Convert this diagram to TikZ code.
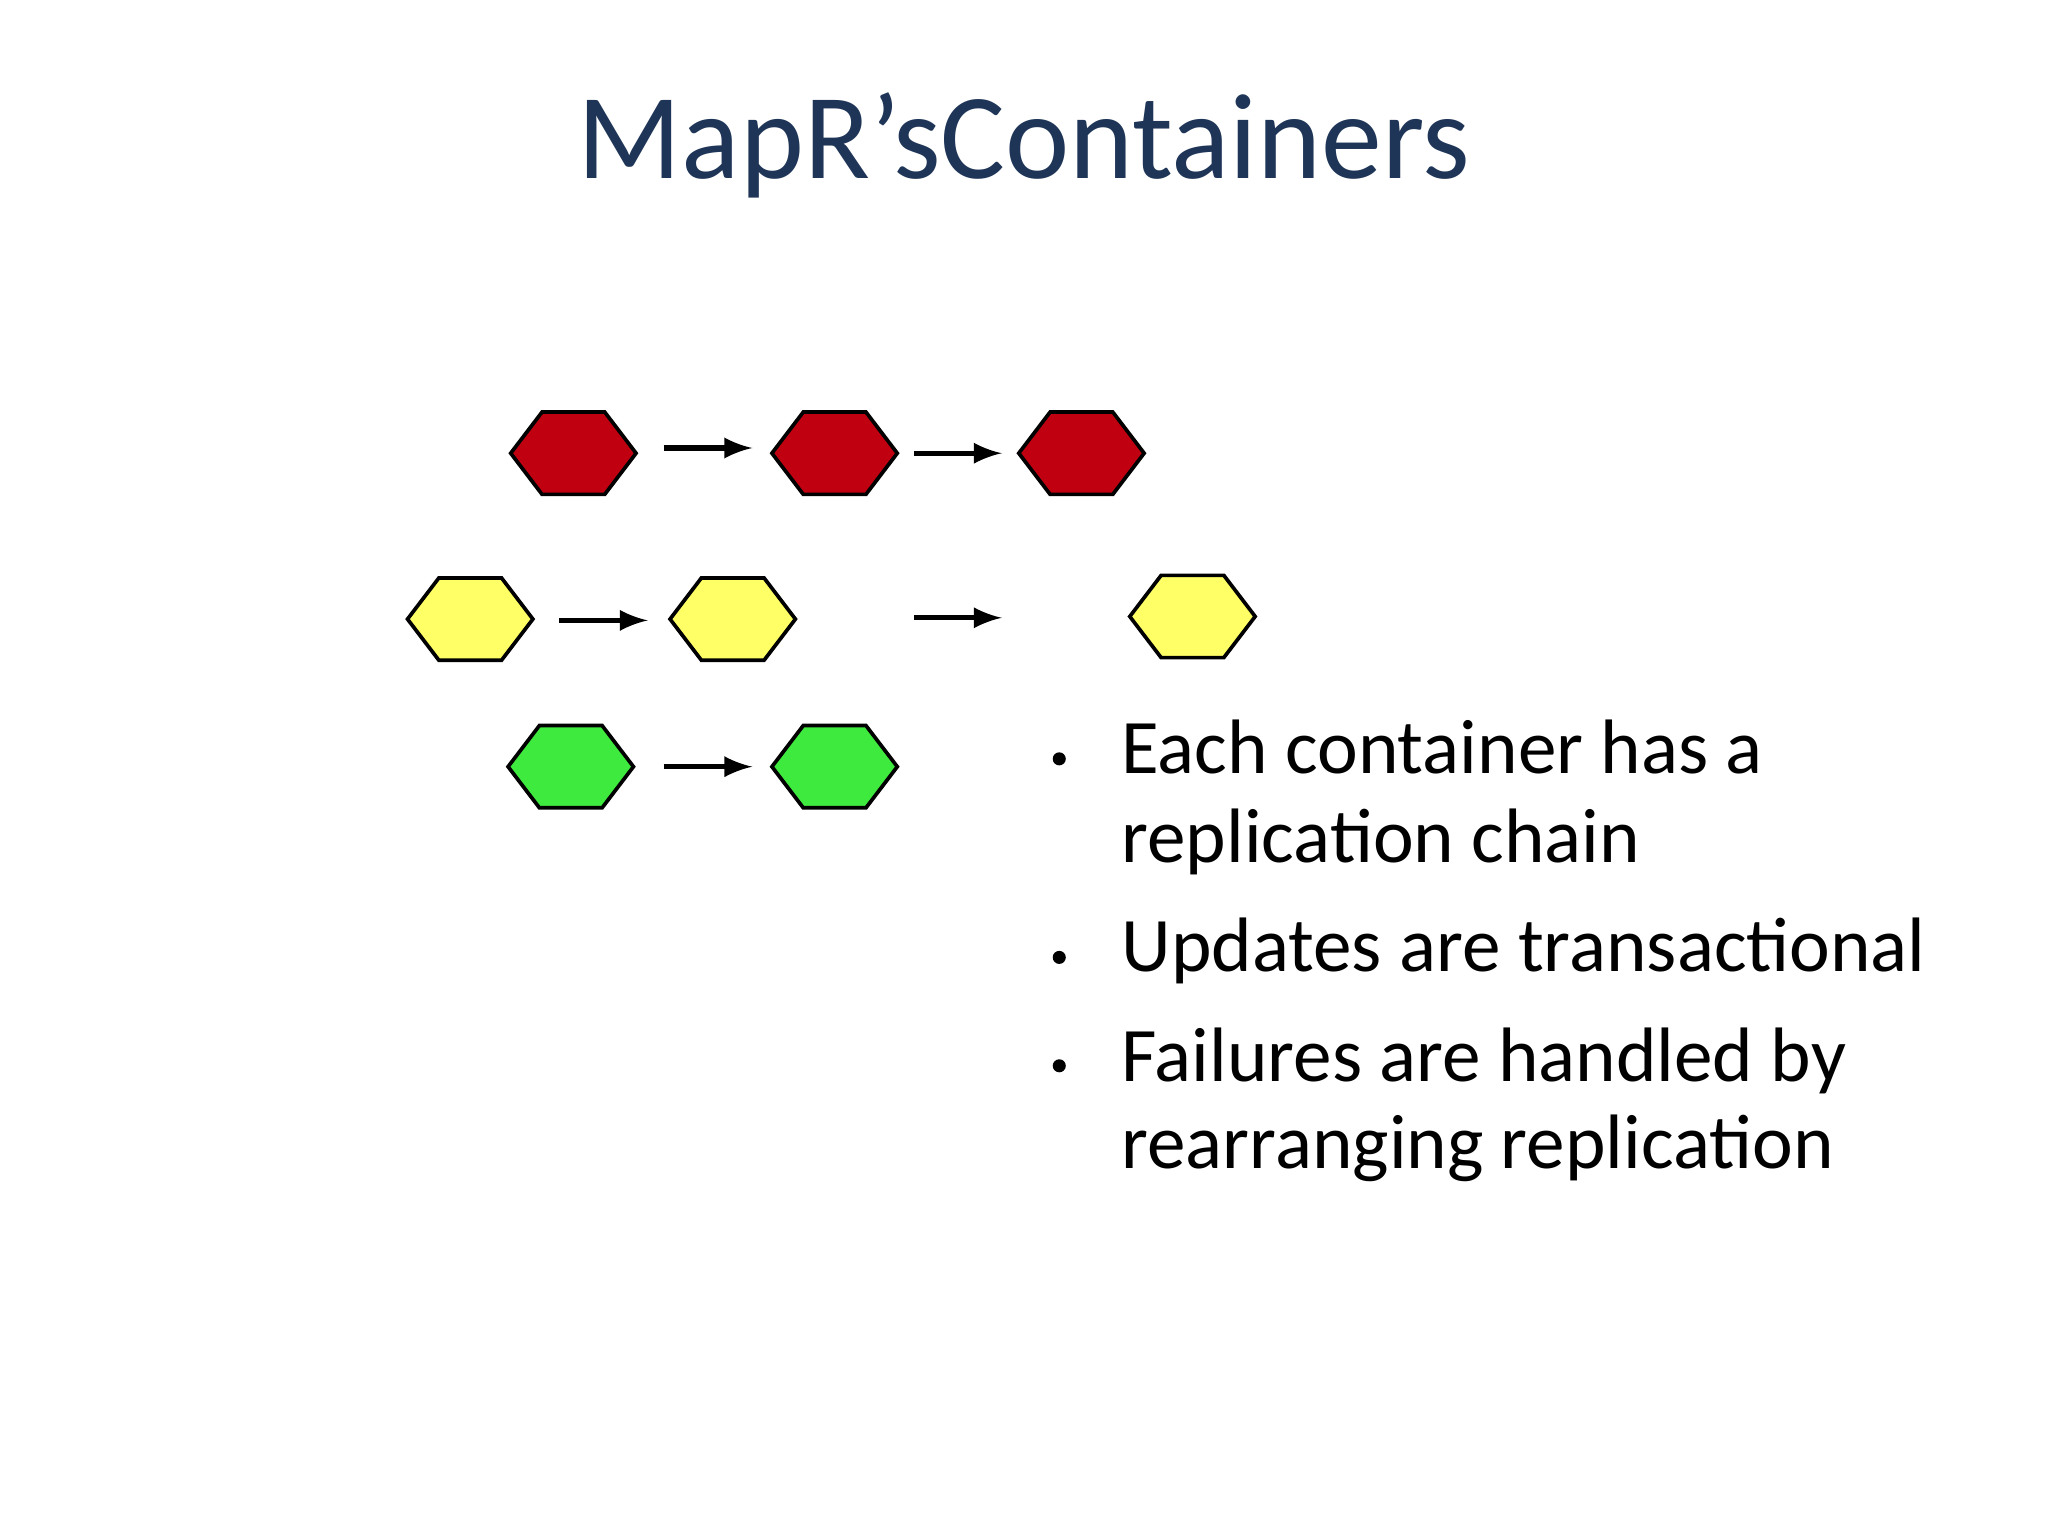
\documentclass[tikz,border=0pt]{standalone}
\usepackage{fontspec}
\setmainfont{Carlito}
\definecolor{titleblue}{HTML}{1F3557}
\definecolor{hred}{HTML}{C00010}
\definecolor{hyel}{HTML}{FFFF66}
\definecolor{hgreen}{HTML}{3FEA3F}
\tikzset{
  hexa/.style={draw=black,line width=0.8pt,line join=miter},
  chain/.style={-latex,line width=1.1pt},
  btext/.style={anchor=base west,inner sep=0pt,font=\fontsize{16.8}{20}\selectfont}
}
\newcommand{\hexat}[4]{% name, x, y, color
  \coordinate (#1) at (#2,#3);
  \draw[hexa,fill=#4] ($(#1)+(-48,0)$) -- ($(#1)+(-24,31.5)$) -- ($(#1)+(24,31.5)$) -- ($(#1)+(48,0)$) -- ($(#1)+(24,-31.5)$) -- ($(#1)+(-24,-31.5)$) -- cycle;
}
\usetikzlibrary{calc}
\begin{document}
\begin{tikzpicture}[x=0.01cm,y=-0.01cm]
\useasboundingbox (0,0) rectangle (1568,1176);
\node[font=\fontsize{26.5}{30}\selectfont,text=titleblue,anchor=base] (title) at (784,137) {MapR's\hspace{-0.1pt}Containers};
\hexat{r1}{439}{347}{hred}
\hexat{r2}{639}{347}{hred}
\hexat{r3}{828}{347}{hred}
\hexat{y1}{360}{474}{hyel}
\hexat{y2}{561}{474}{hyel}
\hexat{y3}{913}{472}{hyel}
\hexat{g1}{437}{587}{hgreen}
\hexat{g2}{639}{587}{hgreen}
\coordinate (a1s) at (508,343); \coordinate (a1e) at (576,343);
\coordinate (a2s) at (700,347); \coordinate (a2e) at (767,347);
\coordinate (a3s) at (428,475); \coordinate (a3e) at (496,475);
\coordinate (a4s) at (700,473); \coordinate (a4e) at (767,473);
\coordinate (a5s) at (508,587); \coordinate (a5e) at (576,587);
\draw[chain] (a1s) -- (a1e);
\draw[chain] (a2s) -- (a2e);
\draw[chain] (a3s) -- (a3e);
\draw[chain] (a4s) -- (a4e);
\draw[chain] (a5s) -- (a5e);
\foreach \yy in {581,733,816} \fill (811,\yy) circle (5);
\node[btext] (l1) at (858,592) {Each container has a};
\node[btext] (l2) at (858,660) {replication chain};
\node[btext] (l3) at (858,744) {Updates are transactional};
\node[btext] (l4) at (858,828) {Failures are handled by};
\node[btext] (l5) at (858,895) {rearranging replication};
\end{tikzpicture}
\end{document}
